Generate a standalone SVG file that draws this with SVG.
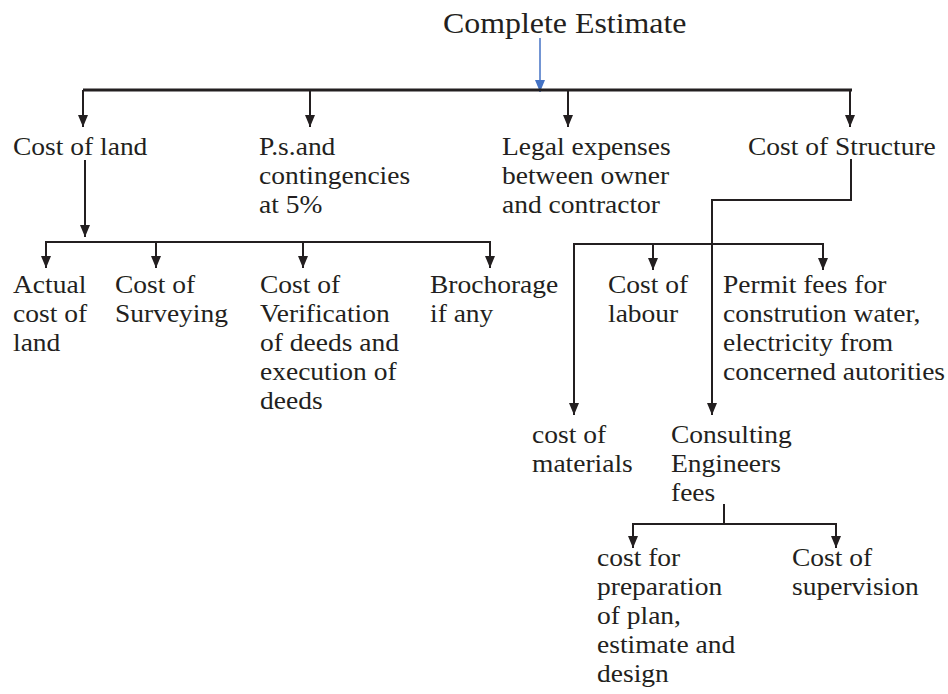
<svg xmlns="http://www.w3.org/2000/svg" width="948" height="694" viewBox="0 0 948 694">
<style>
text{font-family:"Liberation Serif","Times New Roman",serif;font-size:25px;fill:#231f20}
.t{font-size:29px}
.c{fill:none;stroke:#231f20;stroke-width:2}
.b{stroke-width:3}
</style>
<defs>
<marker id="ah" viewBox="0 0 12 10" refX="12" refY="5" markerWidth="12" markerHeight="10" markerUnits="userSpaceOnUse" orient="auto"><path d="M0,0 L12,5 L0,10 z" fill="#231f20"/></marker>
<marker id="ab" viewBox="0 0 12 10" refX="12" refY="5" markerWidth="12" markerHeight="10" markerUnits="userSpaceOnUse" orient="auto"><path d="M0,0 L12,5 L0,10 z" fill="#4472c4"/></marker>
</defs>
<rect width="948" height="694" fill="#fff"/>
<g id="connectors">
<line x1="540" y1="38" x2="540" y2="92" stroke="#4472c4" stroke-width="1.5" marker-end="url(#ab)"/>
<line class="c b" x1="83" y1="90" x2="852" y2="90"/>
<line class="c" x1="83" y1="90" x2="83" y2="127" marker-end="url(#ah)"/>
<line class="c" x1="310" y1="90" x2="310" y2="127" marker-end="url(#ah)"/>
<line class="c" x1="568" y1="90" x2="568" y2="127" marker-end="url(#ah)"/>
<line class="c" x1="850" y1="90" x2="850" y2="127" marker-end="url(#ah)"/>
<line class="c" x1="85" y1="160" x2="85" y2="237" marker-end="url(#ah)"/>
<line class="c" x1="45" y1="242" x2="491" y2="242"/>
<line class="c" x1="46" y1="242" x2="46" y2="268" marker-end="url(#ah)"/>
<line class="c" x1="156" y1="242" x2="156" y2="268" marker-end="url(#ah)"/>
<line class="c" x1="303" y1="242" x2="303" y2="268" marker-end="url(#ah)"/>
<line class="c" x1="490" y1="242" x2="490" y2="268" marker-end="url(#ah)"/>
<path class="c" d="M851,159 V200 H712 V415" marker-end="url(#ah)"/>
<line class="c" x1="573" y1="244" x2="824" y2="244"/>
<line class="c" x1="574" y1="244" x2="574" y2="415" marker-end="url(#ah)"/>
<line class="c" x1="653" y1="244" x2="653" y2="270" marker-end="url(#ah)"/>
<line class="c" x1="823" y1="244" x2="823" y2="270" marker-end="url(#ah)"/>
<line class="c" x1="724" y1="504" x2="724" y2="524"/>
<line class="c" x1="632" y1="524" x2="837" y2="524"/>
<line class="c" x1="633" y1="524" x2="633" y2="548" marker-end="url(#ah)"/>
<line class="c" x1="836" y1="524" x2="836" y2="548" marker-end="url(#ah)"/>
</g>
<g id="n-complete"><text class="t" transform="translate(443,33) scale(1.1,1)">Complete Estimate</text></g>
<g id="n-land"><text transform="translate(13,155) scale(1.1,1)">Cost of land</text></g>
<g id="n-ps"><text transform="translate(259,155) scale(1.1,1)"><tspan x="0" y="0">P.s.and</tspan><tspan x="0" y="29">contingencies</tspan><tspan x="0" y="58">at 5%</tspan></text></g>
<g id="n-legal"><text transform="translate(502,155) scale(1.1,1)"><tspan x="0" y="0">Legal expenses</tspan><tspan x="0" y="29">between owner</tspan><tspan x="0" y="58">and contractor</tspan></text></g>
<g id="n-structure"><text transform="translate(748,155) scale(1.1,1)">Cost of Structure</text></g>
<g id="n-actual"><text transform="translate(13,293) scale(1.1,1)"><tspan x="0" y="0">Actual</tspan><tspan x="0" y="29">cost of</tspan><tspan x="0" y="58">land</tspan></text></g>
<g id="n-surveying"><text transform="translate(115,293) scale(1.1,1)"><tspan x="0" y="0">Cost of</tspan><tspan x="0" y="29">Surveying</tspan></text></g>
<g id="n-verification"><text transform="translate(260,293) scale(1.1,1)"><tspan x="0" y="0">Cost of</tspan><tspan x="0" y="29">Verification</tspan><tspan x="0" y="58">of deeds and</tspan><tspan x="0" y="87">execution of</tspan><tspan x="0" y="116">deeds</tspan></text></g>
<g id="n-brochorage"><text transform="translate(430,293) scale(1.1,1)"><tspan x="0" y="0">Brochorage</tspan><tspan x="0" y="29">if any</tspan></text></g>
<g id="n-labour"><text transform="translate(608,293) scale(1.1,1)"><tspan x="0" y="0">Cost of</tspan><tspan x="0" y="29">labour</tspan></text></g>
<g id="n-permit"><text transform="translate(723,293) scale(1.1,1)"><tspan x="0" y="0">Permit fees for</tspan><tspan x="0" y="29">constrution water,</tspan><tspan x="0" y="58">electricity from</tspan><tspan x="0" y="87">concerned autorities</tspan></text></g>
<g id="n-materials"><text transform="translate(532,443) scale(1.1,1)"><tspan x="0" y="0">cost of</tspan><tspan x="0" y="29">materials</tspan></text></g>
<g id="n-consulting"><text transform="translate(671,443) scale(1.1,1)"><tspan x="0" y="0">Consulting</tspan><tspan x="0" y="29">Engineers</tspan><tspan x="0" y="58">fees</tspan></text></g>
<g id="n-preparation"><text transform="translate(597,566) scale(1.1,1)"><tspan x="0" y="0">cost for</tspan><tspan x="0" y="29">preparation</tspan><tspan x="0" y="58">of plan,</tspan><tspan x="0" y="87">estimate and</tspan><tspan x="0" y="116">design</tspan></text></g>
<g id="n-supervision"><text transform="translate(792,566) scale(1.1,1)"><tspan x="0" y="0">Cost of</tspan><tspan x="0" y="29">supervision</tspan></text></g>
</svg>
